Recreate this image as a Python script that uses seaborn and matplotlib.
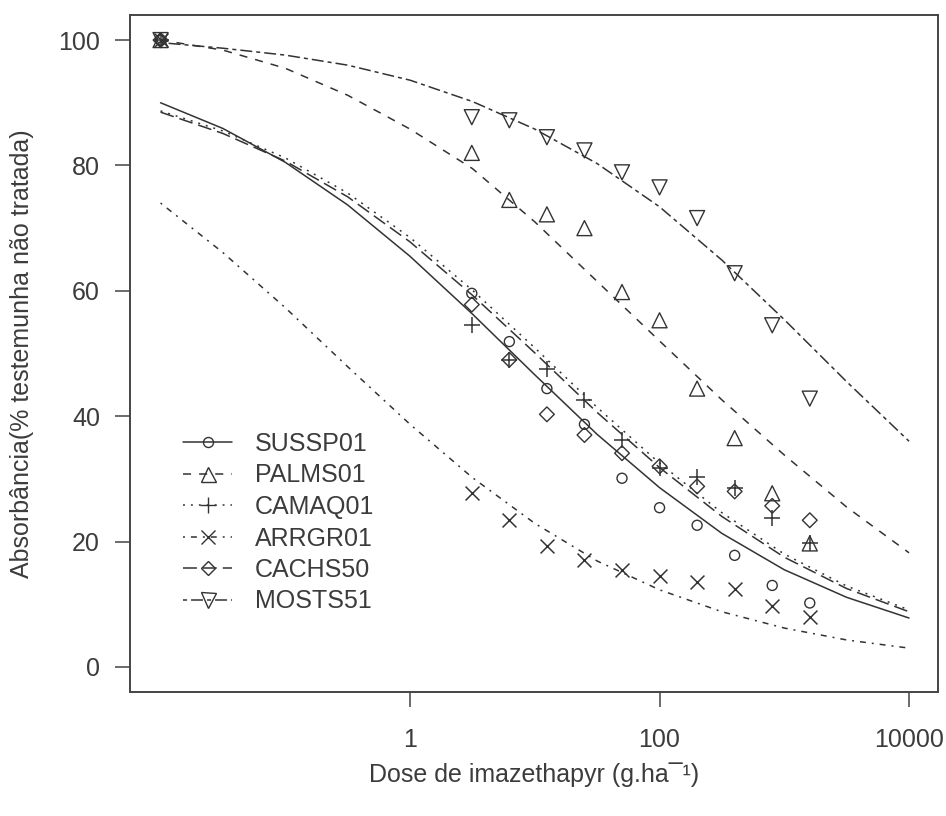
import matplotlib
matplotlib.use("Agg")
import matplotlib.pyplot as plt
from matplotlib.lines import Line2D
from matplotlib.ticker import NullLocator
import seaborn as sns

# observed doses (g/ha); the untreated control sits at 0.01 on the log axis
doses = [0.01, 3.125, 6.25, 12.5, 25, 50, 100, 200, 400, 800, 1600]
sussp01 = [100, 59.6, 51.9, 44.4, 38.7, 30.1, 25.4, 22.6, 17.8, 13.0, 10.2]
palms01 = [100, 82.0, 74.5, 72.2, 70.0, 59.8, 55.3, 44.4, 36.5, 27.7, 19.7]
camaq01 = [100, 54.5, 49.0, 47.6, 42.6, 36.2, 31.7, 30.3, 28.5, 23.8, 19.7]
arrgr01 = [100, 27.8, 23.4, 19.3, 17.0, 15.5, 14.5, 13.6, 12.5, 9.7, 7.9]
cachs50 = [100, 57.8, 49.0, 40.3, 37.0, 34.1, 32.0, 28.8, 28.0, 25.7, 23.4]
mosts51 = [100, 87.7, 87.2, 84.5, 82.4, 78.9, 76.5, 71.6, 62.8, 54.5, 42.8]

# fitted curves, every half decade
curve_dose = [0.01, 0.0316, 0.1, 0.316, 1, 3.16, 10, 31.6, 100, 316, 1000, 3162, 10000]
sussp01_fit = [90.0, 85.9, 80.5, 73.7, 65.5, 56.3, 46.6, 37.1, 28.6, 21.3, 15.5, 11.1, 7.8]
palms01_fit = [100, 98.4, 95.5, 91.2, 85.8, 79.5, 71.0, 61.5, 52.0, 42.6, 33.8, 25.5, 18.2]
camaq01_fit = [88.7, 85.5, 81.2, 75.6, 68.5, 60.1, 50.9, 41.4, 32.5, 24.6, 18.0, 12.9, 9.1]
arrgr01_fit = [74.0, 66.1, 57.3, 47.9, 38.7, 30.2, 22.9, 16.9, 12.3, 8.8, 6.2, 4.3, 3.0]
cachs50_fit = [88.5, 85.1, 80.7, 75.0, 67.8, 59.3, 50.1, 40.6, 31.8, 24.0, 17.5, 12.5, 8.8]
mosts51_fit = [99.6, 98.7, 97.6, 96.0, 93.6, 90.2, 85.8, 80.3, 73.4, 64.9, 55.4, 45.5, 36.0]

names = ["SUSSP01", "PALMS01", "CAMAQ01", "ARRGR01", "CACHS50", "MOSTS51"]
points = [sussp01, palms01, camaq01, arrgr01, cachs50, mosts51]
fits = [sussp01_fit, palms01_fit, camaq01_fit, arrgr01_fit, cachs50_fit, mosts51_fit]

# R-like line types 1..6 and point types 1..6
dashes = [(), (5.8, 5.8), (1.4, 4.3), (1.4, 4.3, 4.3, 4.3), (10, 4.3), (2.9, 2.9, 8.6, 2.9)]
markers = ["o", "^", "+", "x", "D", "v"]
msizes = [7.2, 10.8, 11, 10, 7.5, 10.8]

LINE = "#333333"
TEXT = "#3c3c3c"


def line_style(d):
    return "-" if not d else (0, d)


def main():
    sns.set_theme(style="ticks")
    plt.rcParams["font.family"] = ["Liberation Sans", "DejaVu Sans"]
    plt.rcParams["lines.scale_dashes"] = False

    fig = plt.figure(figsize=(9.46, 8.16), dpi=100)
    ax = fig.add_axes([130 / 946, 124 / 816, 808 / 946, 677 / 816])

    for name, pts, fit, d, mk, ms in zip(names, points, fits, dashes, markers, msizes):
        sns.lineplot(x=curve_dose, y=fit, ax=ax, color=LINE, linewidth=1.1,
                     linestyle=line_style(d), estimator=None, sort=False)
        if mk in ("+", "x"):
            sns.scatterplot(x=doses, y=pts, ax=ax, marker=mk, s=ms ** 2,
                            color=LINE, linewidth=1.1, zorder=3)
        else:
            sns.scatterplot(x=doses, y=pts, ax=ax, marker=mk, s=ms ** 2,
                            facecolor="none", edgecolor=LINE, linewidth=1.0, zorder=3)

    ax.set_xscale("log")
    ax.set_xlim(10 ** -2.245, 10 ** 4.232)
    ax.set_ylim(-4, 104)
    ax.set_xticks([1, 100, 10000])
    ax.set_xticklabels(["1", "100", "10000"])
    ax.xaxis.set_minor_locator(NullLocator())
    ax.set_yticks([0, 20, 40, 60, 80, 100])
    ax.set_yticklabels(["0", "20", "40", "60", "80", "100"])

    for sp in ax.spines.values():
        sp.set_visible(True)
        sp.set_color("#444444")
        sp.set_linewidth(1.4)
    ax.tick_params(axis="both", length=10.8, width=1.1, color="#444444",
                   labelsize=18, labelcolor=TEXT, direction="out")
    ax.tick_params(axis="x", pad=15)
    ax.tick_params(axis="y", pad=10.8)

    ax.set_xlabel("Dose de imazethapyr (g.ha¯¹)", fontsize=18, color=TEXT)
    ax.set_ylabel("Absorbância(% testemunha não tratada)", fontsize=18, color=TEXT)
    ax.xaxis.label.set_va("center")
    ax.yaxis.label.set_va("center")
    ax.xaxis.set_label_coords(0.5, -0.1226)
    ax.yaxis.set_label_coords(-0.1337, 0.5)

    handles = [Line2D([], [], color=LINE, linewidth=1.1, linestyle=line_style(d),
                      marker=mk, markersize=ms, markerfacecolor="none",
                      markeredgecolor=LINE, markeredgewidth=1.0)
               for d, mk, ms in zip(dashes, markers, msizes)]
    ax.legend(handles, names, loc="upper left",
              bbox_to_anchor=(183 / 946, 1 - 432 / 816), bbox_transform=fig.transFigure,
              frameon=False, fontsize=18, labelcolor=TEXT, borderpad=0, borderaxespad=0,
              handlelength=1.96, handletextpad=0.92, labelspacing=0.3, numpoints=1)

    fig.savefig("out.png", dpi=100)


if __name__ == "__main__":
    main()
